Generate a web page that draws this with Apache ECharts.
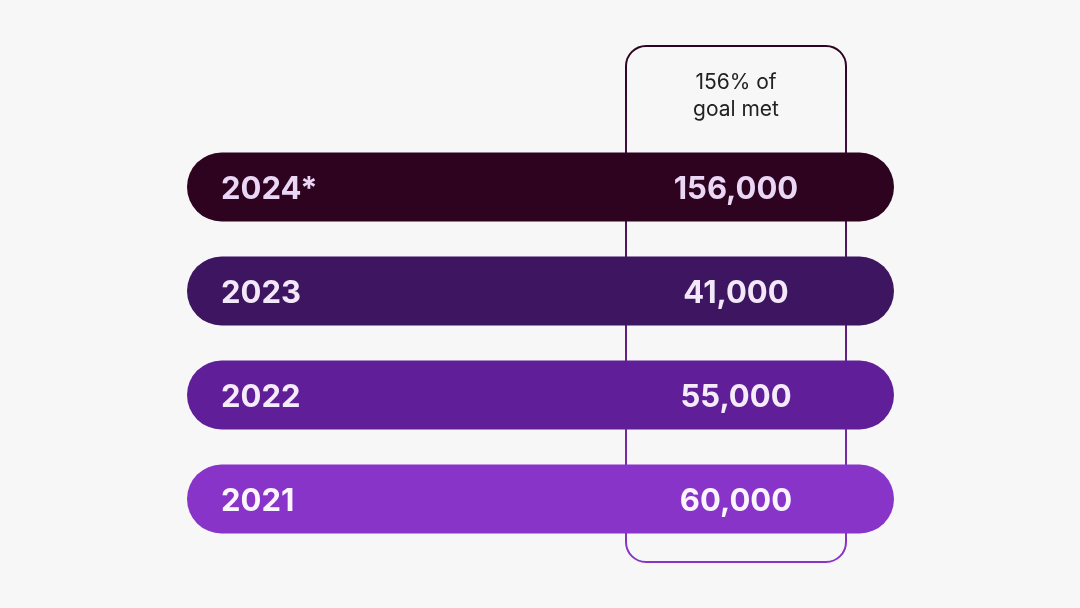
<!DOCTYPE html>
<html>
<head>
<meta charset="utf-8">
<script src="https://cdn.jsdelivr.net/npm/echarts@6/dist/echarts.min.js"></script>
<style>
html,body{margin:0;padding:0;background:#f7f7f7;}
#c{width:1080px;height:608px;}
</style>
</head>
<body>
<div id="c"></div>
<script>
const categories = ['2021', '2022', '2023', '2024*'];
const values = [60000, 55000, 41000, 156000];
const goalText = '156% of\ngoal met';

const barColors = ['#8834c8', '#601f99', '#3d1560', '#2d0320'];
const textColors = ['#fbf6fd', '#f5ecfa', '#f3e8fa', '#ead6f5'];

const chart = echarts.init(document.getElementById('c'));
const fmt = v => v.toLocaleString('en-US');

chart.setOption({
  backgroundColor: '#f7f7f7',
  animation: false,
  grid: { left: 187, right: 186, top: 135, bottom: 57 },
  xAxis: { type: 'value', min: 0, max: 1, show: false },
  yAxis: { type: 'category', data: categories, show: false },
  graphic: [
    {
      type: 'rect', z: 0,
      shape: { x: 626, y: 46, width: 220, height: 516, r: 20 },
      style: {
        fill: 'none', lineWidth: 2,
        stroke: new echarts.graphic.LinearGradient(0, 0, 0, 1, [
          { offset: 0, color: '#2e0320' },
          { offset: 1, color: '#8a35c9' }
        ])
      }
    },
    {
      type: 'text', z: 1,
      x: 736, y: 69,
      style: {
        text: goalText, fill: '#222222',
        font: '400 21px Inter', lineHeight: 27,
        align: 'center', verticalAlign: 'top'
      }
    }
  ],
  series: [{
    type: 'custom',
    z: 5,
    data: values.map((v, i) => [i, v]),
    encode: { y: 0, x: 1 },
    renderItem: function (params, api) {
      const idx = api.value(0);
      const v = api.value(1);
      const cs = params.coordSys;
      const cy = api.coord([0, idx])[1];
      const h = 69;
      const boxCenter = 736;
      return {
        type: 'group',
        children: [
          {
            type: 'rect',
            shape: { x: cs.x, y: cy - h / 2, width: cs.width, height: h, r: h / 2 },
            style: { fill: barColors[idx] }
          },
          {
            type: 'text',
            style: {
              x: cs.x + 34, y: cy + 3,
              text: categories[idx], fill: textColors[idx],
              font: '700 31px Inter', align: 'left', verticalAlign: 'middle'
            }
          },
          {
            type: 'text',
            style: {
              x: boxCenter, y: cy + 3,
              text: fmt(v), fill: textColors[idx],
              font: '700 31px Inter', align: 'center', verticalAlign: 'middle'
            }
          }
        ]
      };
    }
  }]
});
</script>
</body>
</html>
